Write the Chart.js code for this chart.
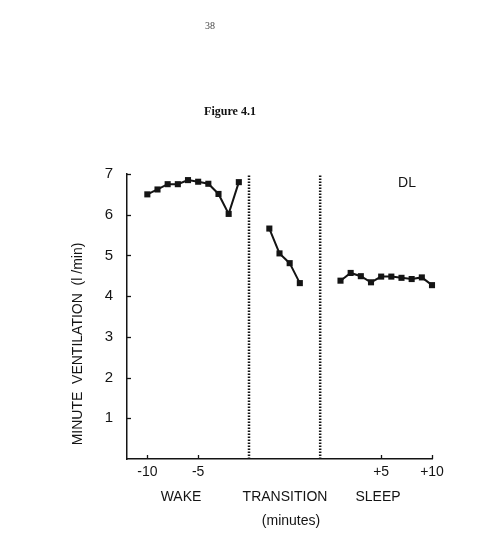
<!DOCTYPE html>
<html><head><meta charset="utf-8">
<script src="https://cdn.jsdelivr.net/npm/chart.js@4/dist/chart.umd.min.js"></script>
<style>
html,body{margin:0;padding:0;background:#fff;}
#wrap{position:relative;width:478px;height:547px;overflow:hidden;}
canvas{position:absolute;left:0;top:0;}
.t{position:absolute;white-space:nowrap;transform:translate(-50%,-50%);color:#222;}
</style>
</head><body>
<div id="wrap">
<canvas id="c" width="478" height="547"></canvas>
<div class="t" style="left:210px;top:25px;font:10px 'Liberation Serif',serif;color:#444;">38</div>
<div class="t" style="left:230px;top:111px;font:bold 12px 'Liberation Serif',serif;color:#111;">Figure 4.1</div>
</div>
<script>
// ---- data ----
const wakeMinutes = [-10, -9, -8, -7, -6, -5, -4, -3, -2, -1];
const wakeValues = [6.50, 6.62, 6.75, 6.75, 6.85, 6.81, 6.76, 6.51, 6.02, 6.80];
const transitionSteps = [1, 2, 3, 4];
const transitionValues = [5.66, 5.05, 4.81, 4.32];
const sleepMinutes = [1, 2, 3, 4, 5, 6, 7, 8, 9, 10];
const sleepValues = [4.38, 4.57, 4.49, 4.34, 4.48, 4.48, 4.45, 4.42, 4.46, 4.27];
const xTickMinutes = [-10, -5, 5, 10];
const xTickLabels = ['-10', '-5', '+5', '+10'];
const yTickValues = [1, 2, 3, 4, 5, 6, 7];
const phaseLabels = ['WAKE', 'TRANSITION', 'SLEEP'];
const yTitle = 'MINUTE  VENTILATION  (l /min)';
const xTitle = '(minutes)';
const subjectLabel = 'DL';

// ---- timeline mapping (wake | transition | sleep) ----
const pos = {
  wake: m => m,
  transition: k => k + 1,
  sleep: s => s + 8
};
const boundaries = [0, 7];
const minuteToPos = m => (m < 0 ? pos.wake(m) : pos.sleep(m));

const INK = '#141414';
const lineDs = (xs, ys, f) => ({
  data: xs.map((x, i) => ({ x: f(x), y: ys[i] })),
  borderColor: INK, borderWidth: 2,
  pointStyle: 'rect', pointRadius: 4.3, pointHoverRadius: 4.3,
  pointBackgroundColor: INK, pointBorderWidth: 0,
  tension: 0, clip: false
});
const dotDs = b => ({
  data: [{ x: b, y: 0 }, { x: b, y: 7 }],
  borderColor: INK, borderWidth: 2.5, borderDash: [1.6, 1.4],
  pointRadius: 0, pointHoverRadius: 0, clip: false
});

const extras = {
  id: 'extras',
  afterDraw(chart) {
    const { ctx } = chart;
    const xs = chart.scales.x, ys = chart.scales.y;
    ctx.save();
    ctx.strokeStyle = INK; ctx.lineWidth = 1.3;
    yTickValues.forEach(v => {
      const py = Math.round(ys.getPixelForValue(v)) + 0.5;
      ctx.beginPath(); ctx.moveTo(xs.left, py); ctx.lineTo(xs.left + 4, py); ctx.stroke();
    });
    xTickMinutes.forEach(m => {
      const px = Math.round(xs.getPixelForValue(minuteToPos(m))) + 0.5;
      ctx.beginPath(); ctx.moveTo(px, ys.bottom); ctx.lineTo(px, ys.bottom - 4); ctx.stroke();
    });
    ctx.fillStyle = INK;
    ctx.font = '14px "Liberation Sans", Arial, sans-serif';
    ctx.textAlign = 'center'; ctx.textBaseline = 'middle';
    const phaseX = [181, 285, 378];
    phaseLabels.forEach((t, i) => ctx.fillText(t, phaseX[i], 497));
    ctx.fillText(xTitle, 291, 521);
    ctx.fillText(subjectLabel, 407, 183);
    ctx.translate(78, 344);
    ctx.rotate(-Math.PI / 2);
    ctx.fillText(yTitle, 0, 0);
    ctx.restore();
  }
};

new Chart(document.getElementById('c'), {
  type: 'line',
  data: {
    datasets: [
      lineDs(wakeMinutes, wakeValues, pos.wake),
      lineDs(transitionSteps, transitionValues, pos.transition),
      lineDs(sleepMinutes, sleepValues, pos.sleep),
      dotDs(boundaries[0]),
      dotDs(boundaries[1])
    ]
  },
  options: {
    responsive: false, animation: false, events: [],
    layout: { padding: { left: 0, top: 174, right: 46, bottom: 58 } },
    plugins: { legend: { display: false }, tooltip: { enabled: false } },
    scales: {
      x: {
        type: 'linear', min: -12, max: 18,
        afterFit: s => { s.height = 30; },
        afterBuildTicks: s => { s.ticks = xTickMinutes.map(m => ({ value: minuteToPos(m) })); },
        grid: { display: false },
        border: { display: true, color: INK, width: 1.5 },
        ticks: {
          color: INK, padding: -3, maxRotation: 0, autoSkip: false,
          font: { family: '"Liberation Sans", Arial, sans-serif', size: 14 },
          callback: v => { const i = xTickMinutes.findIndex(m => minuteToPos(m) === v); return i >= 0 ? xTickLabels[i] : ''; }
        }
      },
      y: {
        min: 0, max: 7,
        afterFit: s => { s.width = 127; },
        afterBuildTicks: s => { s.ticks = yTickValues.map(v => ({ value: v })); },
        grid: { display: false },
        border: { display: true, color: INK, width: 1.5 },
        ticks: {
          color: INK, padding: 6, autoSkip: false,
          font: { family: '"Liberation Sans", Arial, sans-serif', size: 15 },
          callback: v => String(v)
        }
      }
    }
  },
  plugins: [extras]
});
</script>
</body></html>
